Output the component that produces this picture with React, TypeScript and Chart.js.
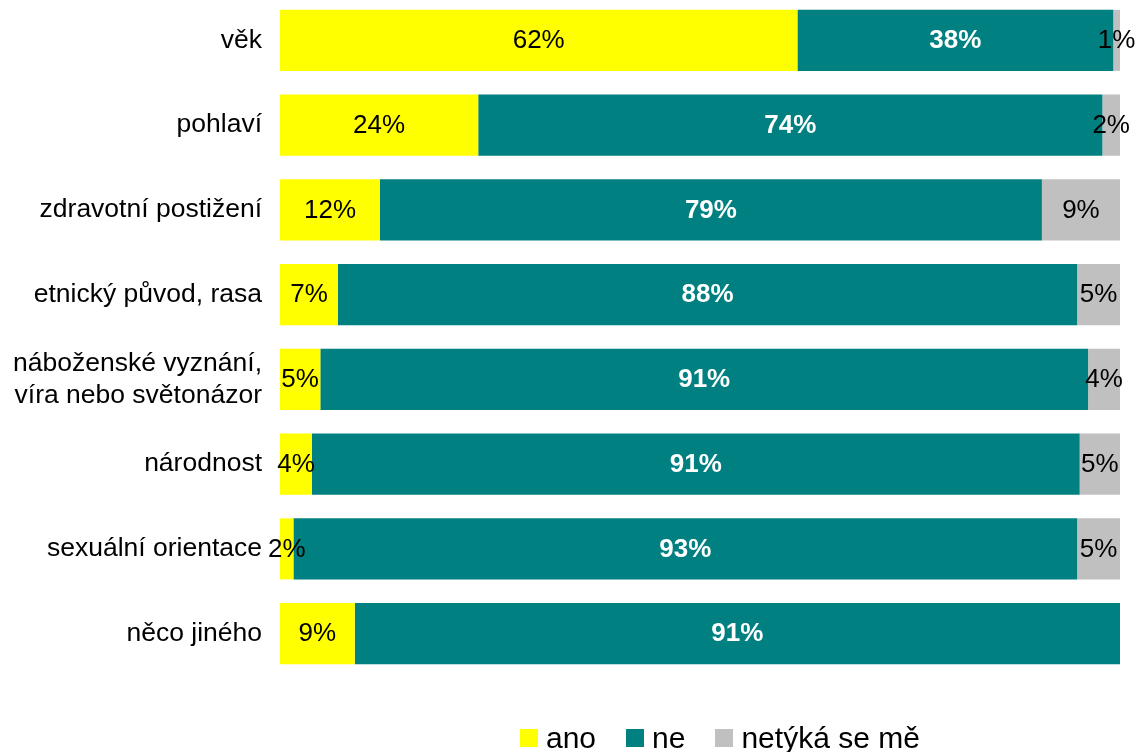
import React, { useEffect, useRef } from "react";
import { Chart, registerables } from "chart.js";

Chart.register(...registerables);

const categories: (string | string[])[] = [
  "věk",
  "pohlaví",
  "zdravotní postižení",
  "etnický původ, rasa",
  ["náboženské vyznání,", "víra nebo světonázor"],
  "národnost",
  "sexuální orientace",
  "něco jiného",
];

const seriesNames = ["ano", "ne", "netýká se mě"];
const seriesColors = ["#FFFF00", "#008080", "#C0C0C0"];

const anoValues = [61.6, 23.6, 11.9, 6.9, 4.8, 3.8, 1.6, 8.9];
const neValues = [37.6, 74.3, 78.8, 88.0, 91.4, 91.4, 93.3, 91.1];
const netykaValues = [0.8, 2.1, 9.3, 5.1, 3.8, 4.8, 5.1, 0];

const FONT = "'Liberation Sans', Arial, Helvetica, sans-serif";

const labelPlugin = {
  id: "segmentLabels",
  afterDatasetsDraw(chart: any) {
    const ctx = chart.ctx;
    ctx.save();
    ctx.textAlign = "center";
    ctx.textBaseline = "middle";
    chart.data.datasets.forEach((ds: any, di: number) => {
      const meta = chart.getDatasetMeta(di);
      const bold = di === 1;
      ctx.font = `${bold ? "bold " : ""}26px ${FONT}`;
      ctx.fillStyle = bold ? "#FFFFFF" : "#000000";
      meta.data.forEach((el: any, i: number) => {
        const v = ds.data[i];
        if (!v || v <= 0) return;
        const cx = (el.x + el.base) / 2;
        ctx.fillText(`${Math.round(v)}%`, cx, el.y + 0.5);
      });
    });
    ctx.restore();
  },
};

export default function App() {
  const canvasRef = useRef<HTMLCanvasElement | null>(null);

  useEffect(() => {
    document.body.style.margin = "0";
    const canvas = canvasRef.current;
    if (!canvas) return;
    const values = [anoValues, neValues, netykaValues];
    const chart = new Chart(canvas, {
      type: "bar",
      data: {
        labels: categories,
        datasets: seriesNames.map((name, i) => ({
          label: name,
          data: values[i],
          backgroundColor: seriesColors[i],
          borderWidth: 0,
          barPercentage: 0.72,
          categoryPercentage: 1,
        })),
      },
      options: {
        indexAxis: "y",
        animation: false,
        responsive: false,
        maintainAspectRatio: false,
        layout: { padding: { left: 0, right: 16, top: 0, bottom: 76 } },
        plugins: {
          legend: { display: false },
          tooltip: { enabled: false },
        },
        scales: {
          x: {
            stacked: true,
            min: 0,
            max: 100,
            display: false,
          },
          y: {
            stacked: true,
            grid: { display: false, drawTicks: false },
            border: { display: false },
            ticks: {
              color: "#000000",
              padding: 18,
              font: { family: FONT, size: 26.5, lineHeight: 1.22 },
            },
            afterFit(scale: any) {
              scale.width = 280;
              scale.paddingTop = 0;
              scale.paddingBottom = 0;
            },
          },
        },
      },
      plugins: [labelPlugin],
    });
    return () => chart.destroy();
  }, []);

  const legendItem = (name: string, color: string, last: boolean) => (
    <div
      key={name}
      style={{ display: "flex", alignItems: "center", marginRight: last ? 0 : 30 }}
    >
      <span
        style={{
          display: "inline-block",
          width: 18,
          height: 18,
          background: color,
          marginRight: 8,
        }}
      />
      <span style={{ fontFamily: FONT, fontSize: 30, color: "#000", lineHeight: "34px" }}>
        {name}
      </span>
    </div>
  );

  return (
    <div style={{ position: "fixed", left: 0, top: 0, width: 1136, height: 752, background: "#fff", overflow: "hidden" }}>
      <canvas
        ref={canvasRef}
        width={1136}
        height={754}
        style={{ position: "absolute", left: 0, top: -2, width: 1136, height: 754 }}
      />
      <div
        style={{
          position: "absolute",
          left: 520,
          top: 721,
          display: "flex",
          alignItems: "center",
        }}
      >
        {seriesNames.map((n, i) => legendItem(n, seriesColors[i], i === seriesNames.length - 1))}
      </div>
    </div>
  );
}
